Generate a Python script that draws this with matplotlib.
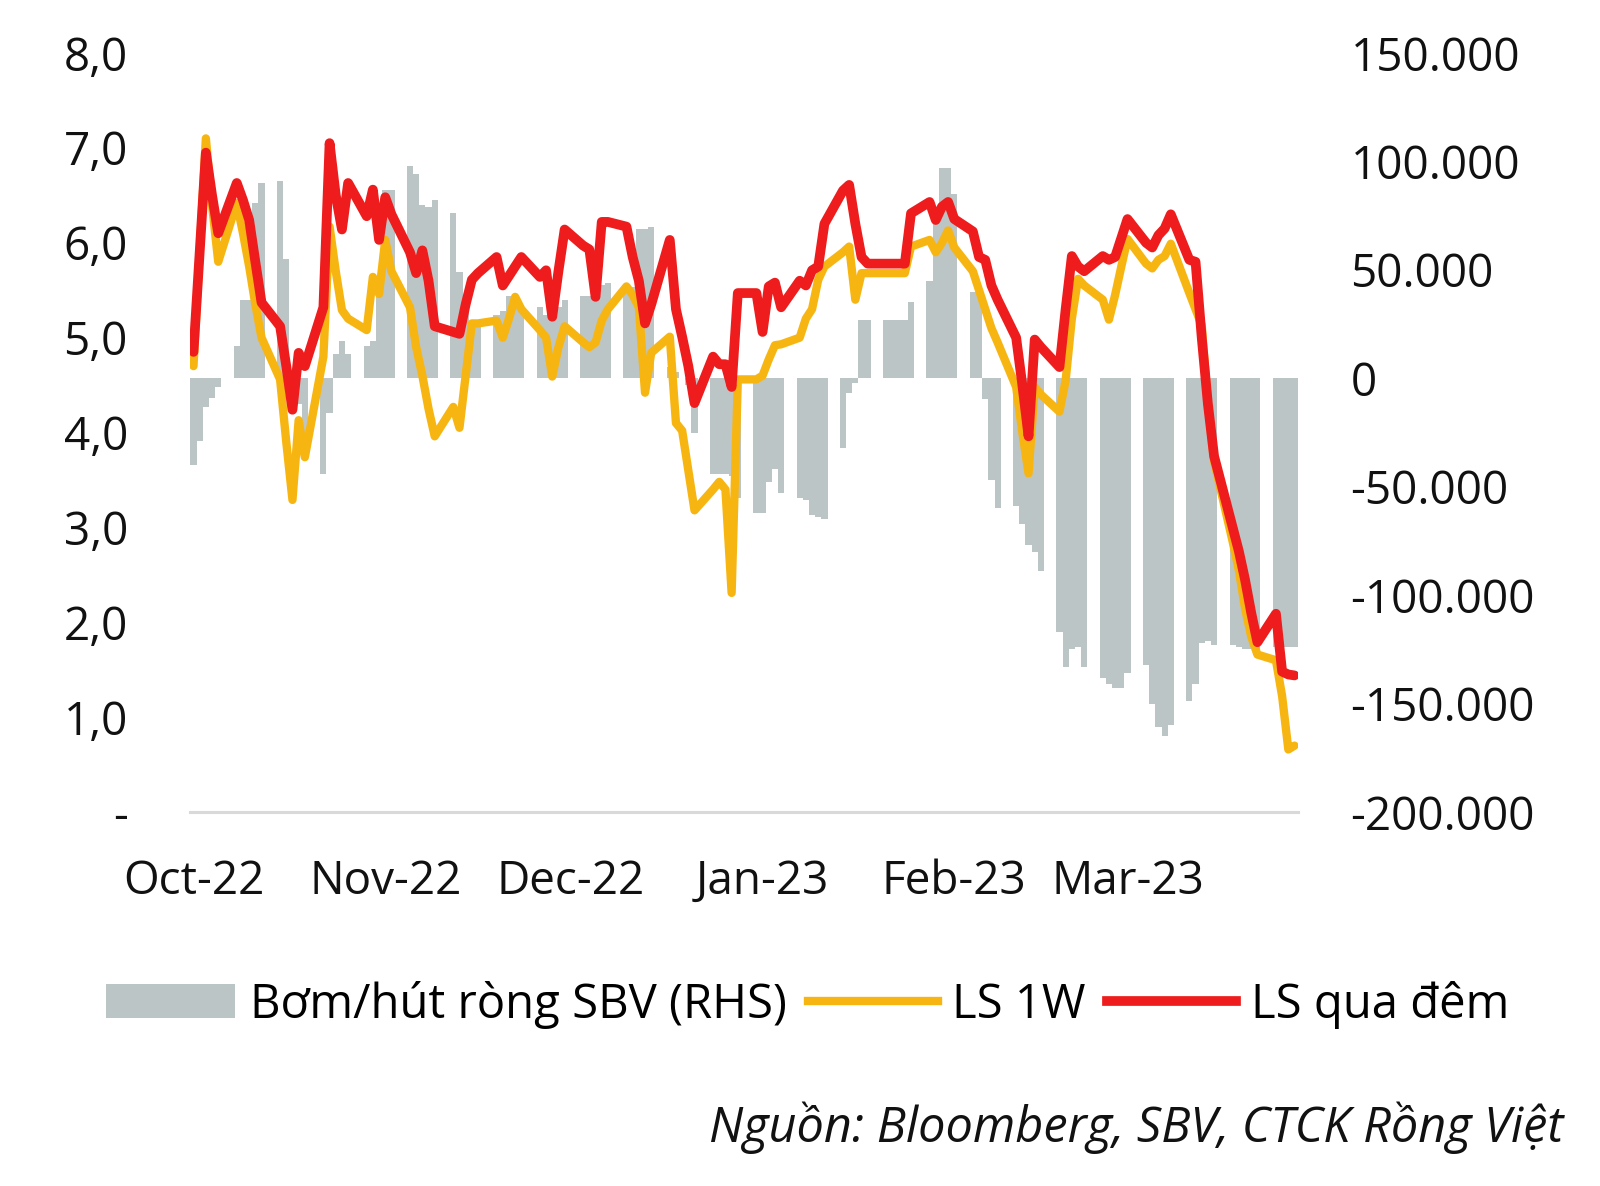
import matplotlib
matplotlib.use("Agg")
import matplotlib.pyplot as plt
import matplotlib.dates as mdates
from matplotlib.patches import Patch
from matplotlib.lines import Line2D
from matplotlib.ticker import FixedLocator, FuncFormatter
import pandas as pd

plt.rcParams['font.family'] = ['Open Sans', 'DejaVu Sans']

# ── Data (business days, 3 Oct 2022 – 30 Mar 2023) ──────────────────────────
dates = pd.bdate_range('2022-10-03', '2023-03-30')

ls_qua_dem = [
    4.85, 5.90, 6.95, 6.50, 6.10,
    6.63, 6.45, 6.24, 5.80, 5.37,
    5.12, 4.70, 4.24, 4.84, 4.70,
    5.32, 7.05, 6.50, 6.14, 6.63,
    6.28, 6.56, 6.03, 6.48, 6.30,
    5.90, 5.68, 5.92, 5.60, 5.12,
    5.06, 5.04, 5.35, 5.61, 5.68,
    5.85, 5.55, 5.65, 5.75, 5.85,
    5.64, 5.71, 5.22, 5.70, 6.14,
    5.97, 5.93, 5.43, 6.22, 6.22,
    6.17, 5.85, 5.60, 5.15, 5.35,
    6.03, 5.30, 5.01, 4.70, 4.31,
    4.80, 4.72, 4.72, 4.48, 5.47,
    5.47, 5.06, 5.54, 5.58, 5.32,
    5.60, 5.55, 5.71, 5.75, 6.20,
    6.55, 6.61, 6.20, 5.85, 5.78,
    5.78, 5.78, 5.78, 5.78, 6.31,
    6.43, 6.24, 6.38, 6.43, 6.25,
    6.12, 5.85, 5.82, 5.55, 5.40,
    5.00, 4.50, 3.96, 4.98, 4.90,
    4.69, 5.30, 5.86, 5.75, 5.70,
    5.86, 5.82, 5.85, 6.05, 6.25,
    6.00, 5.95, 6.08, 6.15, 6.30,
    5.82, 5.80, 5.00, 4.30, 3.75,
    3.00, 2.75, 2.45, 2.10, 1.79,
    2.09, 1.48, 1.45, 1.44,
]

ls_1w = [
    4.70, 5.90, 7.10, 6.40, 5.80,
    6.42, 6.10, 5.75, 5.35, 5.00,
    4.56, 3.90, 3.29, 4.13, 3.74,
    4.80, 6.17, 5.70, 5.29, 5.20,
    5.08, 5.64, 5.46, 6.03, 5.70,
    5.32, 4.90, 4.60, 4.25, 3.96,
    4.27, 4.05, 4.60, 5.15, 5.15,
    5.18, 5.00, 5.20, 5.43, 5.30,
    5.08, 5.00, 4.59, 4.90, 5.12,
    4.95, 4.90, 4.95, 5.18, 5.30,
    5.54, 5.45, 5.32, 4.42, 4.84,
    5.01, 4.10, 4.02, 3.60, 3.18,
    3.40, 3.48, 3.40, 2.31, 4.56,
    4.56, 4.60, 4.77, 4.92, 4.93,
    5.00, 5.20, 5.30, 5.61, 5.75,
    5.90, 5.96, 5.40, 5.68, 5.68,
    5.68, 5.68, 5.68, 5.68, 5.96,
    6.03, 5.90, 6.00, 6.13, 5.95,
    5.70, 5.50, 5.30, 5.10, 4.95,
    4.48, 4.00, 3.57, 4.48, 4.40,
    4.22, 4.55, 5.20, 5.62, 5.55,
    5.40, 5.19, 5.45, 5.75, 6.04,
    5.78, 5.73, 5.82, 5.86, 5.99,
    5.47, 5.30, 5.13, 4.30, 3.70,
    2.85, 2.55, 2.15, 1.85, 1.66,
    1.60, 1.22, 0.66, 0.70,
]

bom_hut = [
    -40000, -29000, -13000, -9000, -4000,
    15000, 36000, 36000, 81000, 90000,
    91000, 55000, -5000, -12000, -25000,
    -44000, -16000, 11000, 17000, 11000,
    15000, 17000, 44000, 87000, 87000,
    98000, 94000, 80000, 79000, 82000,
    76000, 49000, 33000, 25000, 25000,
    29000, 31000, 38000, 33000, 33000,
    33000, 29000, 30000, 33000, 36000,
    38000, 38000, 38000, 43000, 44000,
    42000, 42000, 69000, 69000, 70000,
    5000, 3000, 0, -3000, -25000,
    -44000, -44000, -44000, -45000, -55000,
    -62000, -62000, -48000, -42000, -53000,
    -55000, -56000, -63000, -64000, -65000,
    -32000, -7000, -2000, 27000, 27000,
    27000, 27000, 27000, 27000, 35000,
    45000, 79000, 97000, 97000, 85000,
    40000, 40000, -9500, -47000, -60000,
    -59000, -67000, -77000, -80000, -89000,
    -117000, -133000, -125000, -124000, -133000,
    -138000, -141000, -143000, -143000, -136000,
    -132000, -150000, -161000, -165000, -160000,
    -149000, -141000, -122000, -121000, -123000,
    -123000, -124000, -125000, -125000, -125000,
    -124000, -124000, -124000, -124000,
]

month_ticks = ['2022-10-03', '2022-11-03', '2022-12-03',
               '2023-01-03', '2023-02-03', '2023-03-03']
month_labels = ['Oct-22', 'Nov-22', 'Dec-22', 'Jan-23', 'Feb-23', 'Mar-23']

left_ticks = [0, 1, 2, 3, 4, 5, 6, 7, 8]
right_ticks = [-200000, -150000, -100000, -50000, 0, 50000, 100000, 150000]

legend_labels = ['Bơm/hút ròng SBV (RHS)', 'LS 1W', 'LS qua đêm']
source_text = 'Nguồn: Bloomberg, SBV, CTCK Rồng Việt'

# ── Style ──────────────────────────────────────────────────────────────────
GRAY = '#BCC5C6'
YELLOW = '#F7B512'
RED = '#EE1C1C'
FS = 33

fig = plt.figure(figsize=(16, 11.86), dpi=100)
ax = fig.add_axes([0.119, 0.3153, 0.692, 0.640])
ax2 = ax.twinx()

x = mdates.date2num(dates.to_pydatetime())
ax2.bar(x, bom_hut, width=1.0, color=GRAY, linewidth=0)
ax.plot(x, ls_1w, color=YELLOW, lw=6, solid_joinstyle='round', solid_capstyle='round', zorder=3)
ax.plot(x, ls_qua_dem, color=RED, lw=7, solid_joinstyle='round', solid_capstyle='round', zorder=4)

ax.set_zorder(ax2.get_zorder() + 1)
ax.patch.set_visible(False)

ax.set_xlim(x[0] - 0.5, x[-1] + 0.5)
ax.set_ylim(0, 8)
ax2.set_ylim(-200000, 150000)

ax.yaxis.set_major_locator(FixedLocator(left_ticks))
ax.yaxis.set_major_formatter(FuncFormatter(
    lambda v, p: '-' if v == 0 else f'{v:.1f}'.replace('.', ',')))
ax2.yaxis.set_major_locator(FixedLocator(right_ticks))
ax2.yaxis.set_major_formatter(FuncFormatter(
    lambda v, p: f'{int(v):,}'.replace(',', '.')))

ax.set_xticks(mdates.date2num(pd.to_datetime(month_ticks).to_pydatetime()))
ax.set_xticklabels(month_labels)

for a in (ax, ax2):
    for s in a.spines.values():
        s.set_visible(False)
    a.tick_params(length=0, labelsize=FS, colors='#111111')
ax.spines['bottom'].set_visible(True)
ax.spines['bottom'].set_color('#D9D9D9')
ax.spines['bottom'].set_linewidth(2.2)
ax.tick_params(axis='y', pad=45)
ax.tick_params(axis='x', pad=34)
ax2.tick_params(axis='y', pad=38)

handles = [Patch(facecolor=GRAY, edgecolor='none'),
           Line2D([], [], color=YELLOW, lw=6),
           Line2D([], [], color=RED, lw=7)]
fig.legend(handles, legend_labels, loc='center left', bbox_to_anchor=(0.066, 0.153),
           ncol=3, frameon=False, fontsize=34, handlelength=2.75, handletextpad=0.3,
           columnspacing=0.45, borderpad=0, borderaxespad=0)

fig.text(0.977, 0.049, source_text, ha='right', va='center', fontsize=35,
         style='italic', color='#111111')

fig.savefig('out.png', dpi=100)
